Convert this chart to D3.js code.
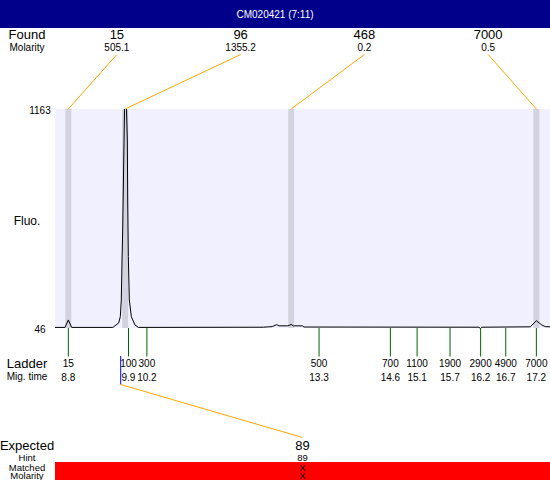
<!DOCTYPE html>
<html>
<head>
<meta charset="utf-8">
<script src="https://cdn.jsdelivr.net/npm/d3@7"></script>
<style>
    body { margin: 0; background: #fff; }
    text { font-family: "Liberation Sans", Arial, sans-serif; }
</style>
</head>
<body>
<div id="chart"></div>
<script>
var title = "CM020421 (7:11)";

// found peaks
var foundSizes = [15, 96, 468, 7000];
var foundMolarity = ["505.1", "1355.2", "0.2", "0.5"];
var foundTimes = [8.80, 9.82, 12.80, 17.20];

// ladder
var ladderSizes = [15, 100, 300, 500, 700, 1100, 1900, 2900, 4900, 7000];
var ladderTimes = [8.80, 9.88, 10.21, 13.30, 14.58, 15.06, 15.651, 16.20, 16.651, 17.20];

// expected
var expectedSize = 89;
var expectedTime = 9.74;
var expectedHint = "89";
var expectedMatched = "X";
var expectedMolarity = "X";

// fluorescence axis
var fluoTicks = [46, 1163];

// electropherogram trace [time, fluo]
var trace = [
    [8.56, 49], [8.74, 49], [8.80, 87], [8.86, 49],
    [9.60, 49], [9.705, 72], [9.733, 104], [9.751, 189], [9.764, 393], [9.776, 546],
    [9.80, 1005], [9.823, 1400], [9.859, 1005], [9.866, 699], [9.877, 410], [9.895, 189],
    [9.931, 104], [9.997, 61], [10.057, 49],
    [12.30, 50], [12.40, 52], [12.46, 53], [12.49, 57], [12.54, 63], [12.58, 57],
    [12.74, 57], [12.80, 64], [12.84, 57], [13.00, 57], [13.03, 51],
    [16.17, 50], [16.195, 43], [16.22, 50],
    [17.09, 52], [17.20, 83], [17.30, 61], [17.36, 53], [17.45, 52]
];

var W = 550, H = 480;
var plot = { left: 55, right: 550, top: 109, bottom: 328 };

var svg = d3.select("#chart").append("svg")
    .attr("width", W)
    .attr("height", H);

var x = d3.scaleLinear()
    .domain([8.561, 17.445])
    .range([plot.left, plot.right]);

var y = d3.scaleLinear()
    .domain([fluoTicks[0], fluoTicks[1]])
    .range([plot.bottom, plot.top]);

// slots for found labels above the plot
var slot = d3.scaleBand()
    .domain(d3.range(foundSizes.length))
    .range([plot.left, plot.right]);

// title bar
svg.append("rect")
    .attr("x", 0).attr("y", 0)
    .attr("width", W).attr("height", 28)
    .style("fill", "#00008b");
svg.append("text")
    .attr("x", W / 2).attr("y", 18)
    .attr("text-anchor", "middle")
    .style("font-size", "10px")
    .style("fill", "#fff")
    .text(title);

// left labels
function leftLabel(txt, yy, size) {
    svg.append("text")
        .attr("x", 27).attr("y", yy)
        .attr("text-anchor", "middle")
        .style("font-size", size + "px")
        .text(txt);
}
leftLabel("Found", 39, 13);
leftLabel("Molarity", 51, 10);
leftLabel("Fluo.", 225, 12);
leftLabel("Ladder", 368, 13);
leftLabel("Mig. time", 380, 10);
leftLabel("Expected", 450, 13);
leftLabel("Hint", 460.5, 9.5);
leftLabel("Matched", 470.5, 9.5);
leftLabel("Molarity", 479, 9.5);

// plot background
svg.append("rect")
    .attr("x", plot.left).attr("y", plot.top)
    .attr("width", plot.right - plot.left)
    .attr("height", plot.bottom - plot.top)
    .style("fill", "#f0f0ff");

// y tick labels
svg.selectAll(".ytick")
    .data(fluoTicks)
    .enter().append("text")
    .attr("class", "ytick")
    .attr("x", 40)
    .attr("y", function(d) { return y(d) + 5; })
    .attr("text-anchor", "middle")
    .style("font-size", "10px")
    .text(function(d) { return d; });

// found bands
svg.selectAll(".band")
    .data(foundTimes)
    .enter().append("rect")
    .attr("class", "band")
    .attr("x", function(d) { return x(d) - 3; })
    .attr("y", plot.top)
    .attr("width", 6)
    .attr("height", plot.bottom - plot.top)
    .style("fill", "#d3d3e0");

// trace
svg.append("clipPath").attr("id", "clip")
    .append("rect")
    .attr("x", plot.left).attr("y", plot.top)
    .attr("width", plot.right - plot.left)
    .attr("height", plot.bottom - plot.top + 2);

var line = d3.line()
    .x(function(d) { return x(d[0]); })
    .y(function(d) { return y(d[1]); });

svg.append("path")
    .datum(trace)
    .attr("clip-path", "url(#clip)")
    .attr("d", line)
    .style("fill", "none")
    .style("stroke", "#000")
    .style("stroke-width", 1);

// found labels + leader lines
foundSizes.forEach(function(s, i) {
    var cx = slot(i) + slot.bandwidth() / 2;
    svg.append("text")
        .attr("x", cx).attr("y", 39)
        .attr("text-anchor", "middle")
        .style("font-size", "13px")
        .text(s);
    svg.append("text")
        .attr("x", cx).attr("y", 51)
        .attr("text-anchor", "middle")
        .style("font-size", "10px")
        .text(foundMolarity[i]);
    svg.append("line")
        .attr("x1", cx).attr("y1", 54.5)
        .attr("x2", x(foundTimes[i])).attr("y2", plot.top)
        .style("stroke", "orange")
        .style("stroke-width", 1);
});

// ladder
svg.selectAll(".lad")
    .data(ladderTimes)
    .enter().append("line")
    .attr("class", "lad")
    .attr("x1", function(d) { return x(d); })
    .attr("x2", function(d) { return x(d); })
    .attr("y1", plot.bottom)
    .attr("y2", 356.5)
    .style("stroke", "#006400")
    .style("stroke-width", 1);

ladderSizes.forEach(function(s, i) {
    svg.append("text")
        .attr("x", x(ladderTimes[i])).attr("y", 367)
        .attr("text-anchor", "middle")
        .style("font-size", "10px")
        .text(s);
    svg.append("text")
        .attr("x", x(ladderTimes[i])).attr("y", 380.5)
        .attr("text-anchor", "middle")
        .style("font-size", "10px")
        .text(ladderTimes[i].toFixed(1));
});

// expected marker
var ex = x(expectedTime);
var mid = (plot.left + plot.right) / 2;
svg.append("line")
    .attr("x1", ex).attr("x2", ex)
    .attr("y1", 356).attr("y2", 384.5)
    .style("stroke", "blue");
svg.append("line")
    .attr("x1", ex).attr("y1", 384.5)
    .attr("x2", mid).attr("y2", 437.5)
    .style("stroke", "orange");

svg.append("rect")
    .attr("x", plot.left).attr("y", 462)
    .attr("width", plot.right - plot.left).attr("height", 18)
    .style("fill", "#ff0000");

svg.append("text")
    .attr("x", mid).attr("y", 450)
    .attr("text-anchor", "middle")
    .style("font-size", "13px")
    .text(expectedSize);
svg.append("text")
    .attr("x", mid).attr("y", 460.5)
    .attr("text-anchor", "middle")
    .style("font-size", "9.5px")
    .text(expectedHint);
svg.append("text")
    .attr("x", mid).attr("y", 470.5)
    .attr("text-anchor", "middle")
    .style("font-size", "9.5px")
    .text(expectedMatched);
svg.append("text")
    .attr("x", mid).attr("y", 479)
    .attr("text-anchor", "middle")
    .style("font-size", "9.5px")
    .text(expectedMolarity);
</script>
</body>
</html>
